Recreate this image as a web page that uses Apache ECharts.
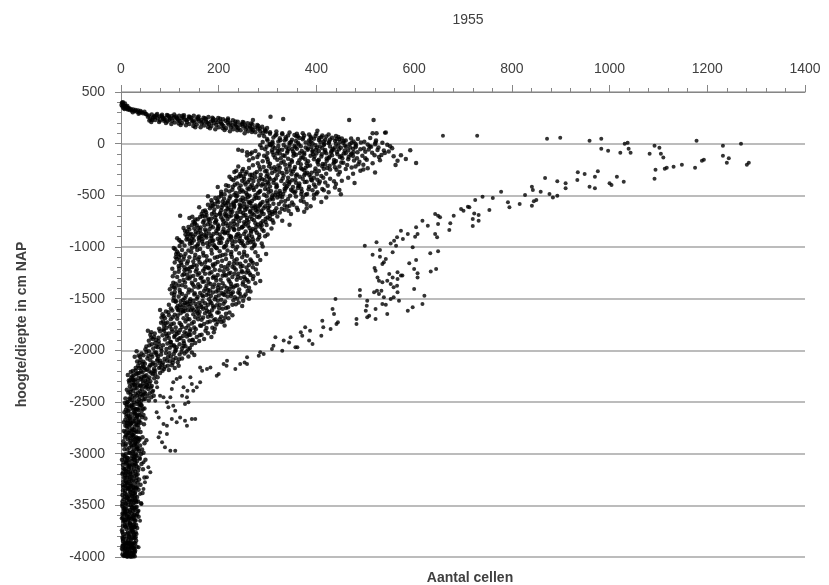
<!DOCTYPE html>
<html>
<head>
<meta charset="utf-8">
<script src="https://cdn.jsdelivr.net/npm/echarts@6/dist/echarts.min.js"></script>
<style>html,body{margin:0;padding:0;background:#fff}#c{width:829px;height:585px}</style>
</head>
<body>
<div id="c"></div>
<script>
const chartTitle = '1955';
const xAxisTitle = 'Aantal cellen';
const yAxisTitle = 'hoogte/diepte in cm NAP';
const xRange = [0, 1400, 200];
const yRange = [-4000, 500, 500];

// Near-surface band (x = cells, y = cm NAP)
const surfaceBand = [
[2,395],[4,380],[6,370],[8,388],[10,362],[12,350],[3,360],[5,345],[7,335],[9,352],[11,340],[14,330],[16,345],[18,325],[1,375],[4,400],[13,365],[15,338],[20,335],[22,320],[25,330],[28,315],[30,325],[33,310],[35,320],[38,300],[40,315],[42,305],[45,295],[48,310],[50,290],[24,305],[36,290],
[55,260],[60,240],[65,250],[70,230],[75,245],[80,225],[85,255],[90,235],[95,215],[100,245],[105,225],[110,205],[115,240],[120,220],[125,200],[130,235],[135,210],[140,190],[145,228],[150,205],[155,185],[160,220],[165,195],[170,175],[175,210],[180,190],[185,170],[190,200],[195,180],[200,160],[205,195],[210,170],[215,150],[220,185],[225,160],[230,140],[235,175],[240,150],[245,130],[250,165],[255,140],[260,120],[265,155],[270,130],[275,110],[280,145],[285,120],[290,100],
[58,225],[68,265],[78,210],[88,222],[98,262],[108,250],[118,195],[128,255],[138,240],[148,172],[158,240],[168,212],[178,162],[188,225],[198,208],[208,148],[218,205],[228,178],[238,130],[248,190],[258,160],[268,112],[62,210],[92,200],[122,180],[152,160],[182,148],[212,132],
[72,275],[83,268],[96,272],[112,262],[126,270],[141,258],[157,255],[172,246],[187,250],[203,240],[219,228],[234,215],[251,205],[266,195],[281,170],[103,190],[133,178],[163,158],[193,140],[223,120],[253,100],[283,80],[64,228],[86,240],[117,230],[147,215],[177,200],[207,185],[237,162],[267,142],[297,115],
[52,285],[57,272],[63,283],[69,258],[74,288],[79,263],[84,281],[89,248],[94,277],[99,231],[104,268],[109,282],[114,252],[119,271],[124,243],[129,276],[134,226],[139,263],[144,248],[149,271],[154,234],[159,262],[164,228],[169,251],[174,236],[179,258],[184,214],[189,241],[194,227],[199,249],[204,212],[209,236],[214,221],[219,244],[224,199],[229,227],[234,192],[239,212],[244,183],[249,209],[254,176],[259,197],[264,168],[269,187],[274,157],[279,181],[284,146],[289,163],[294,138],[299,152],
[306,261],[332,239],[467,229],[517,229],[402,126],[515,100],[523,100],[542,109],[270,229],
[295,125],[305,110],[318,118],[330,100],[345,108],[360,95],[372,102],[385,88],[400,95],[412,80],[425,88],[440,75],
[248,-68],[258,-84],[265,-100],[240,-60]
];

// Main cloud, upper part (0 to -1000)
const mainUpper = [
[305,95],[318,88],[330,92],[342,80],[355,85],[362,72],[375,78],[388,68],[398,75],[410,62],[420,70],[432,58],[445,65],[452,50],[312,60],[325,52],[338,45],[350,38],[365,55],[372,42],[385,30],[395,48],[405,35],[415,22],[428,40],[438,28],[448,15],[460,30],[472,10],[485,45],[498,18],[510,55],[522,30],[535,8],[300,30],[290,15],[310,5],[322,20],[345,10],[358,25],[378,12],[392,5],[408,15],[425,5],[440,0],[455,8],[468,-5],[480,-2],[505,-8],[520,-5],[545,-10],
[285,-15],[298,-30],[305,-8],[315,-45],[322,-22],[330,-60],[338,-35],[345,-12],[352,-75],[360,-48],[368,-25],[375,-88],[382,-60],[390,-32],[398,-15],[405,-70],[412,-45],[420,-92],[428,-28],[435,-58],[442,-80],[450,-40],[458,-18],[465,-65],[472,-95],[480,-35],[490,-55],[500,-78],[512,-30],[525,-62],[540,-90],[555,-45],[295,-55],[310,-82],[325,-95],[340,-88],[355,-20],[370,-70],[385,-5],[400,-95],[415,-12],[430,-85],[445,-20],[460,-92],[475,-48],[300,-90],[275,-70],[268,-85],[350,-52],[392,-78],[438,-38],[418,-62],
[258,-115],[270,-140],[282,-105],[290,-170],[298,-130],[305,-195],[312,-110],[320,-155],[328,-185],[335,-120],[342,-145],[350,-175],[358,-108],[365,-160],[372,-135],[380,-190],[388,-118],[395,-150],[402,-178],[410,-125],[418,-198],[425,-142],[432,-112],[440,-168],[448,-130],[455,-185],[465,-150],[475,-120],[488,-175],[500,-140],[515,-190],[530,-160],[562,-206],[566,-165],[583,-148],[604,-187],[280,-190],[315,-135],[345,-198],[375,-105],[405,-155],[435,-192],[470,-108],[262,-160],[300,-150],
[240,-220],[248,-265],[255,-290],[262,-235],[270,-210],[278,-275],[285,-250],[292,-225],[300,-295],[308,-240],[315,-268],[322,-212],[330,-285],[338,-245],[345,-222],[352,-270],[360,-298],[368,-235],[375,-258],[382,-215],[390,-282],[398,-240],[405,-265],[412,-218],[420,-290],[428,-250],[438,-228],[448,-275],[460,-245],[475,-290],[490,-262],[505,-238],[520,-280],[250,-245],[268,-300],[295,-268],[325,-232],[355,-245],[385,-300],[415,-242],[445,-298],[232,-275],[480,-220],
[222,-320],[230,-355],[238,-385],[245,-310],[252,-340],[260,-372],[268,-398],[275,-325],[282,-360],[290,-390],[298,-315],[305,-345],[312,-378],[320,-305],[328,-362],[335,-392],[342,-330],[350,-355],[358,-310],[365,-385],[372,-340],[380,-368],[388,-322],[395,-395],[402,-350],[410,-312],[418,-375],[428,-340],[440,-390],[452,-358],[465,-330],[478,-380],[235,-330],[255,-395],[285,-330],[318,-395],[345,-370],[375,-305],[405,-385],[248,-360],[395,-330],[300,-370],
[198,-420],[205,-465],[212,-490],[220,-410],[228,-445],[235,-478],[242,-428],[250,-462],[258,-495],[265,-415],[272,-448],[280,-480],[288,-405],[295,-438],[302,-472],[310,-498],[318,-425],[325,-458],[332,-488],[340,-412],[348,-445],[355,-475],[362,-430],[370,-462],[378,-495],[385,-418],[392,-452],[400,-485],[412,-438],[425,-470],[438,-425],[450,-490],[215,-450],[245,-405],[275,-500],[305,-415],[335,-455],[365,-408],[395,-495],[232,-495],[262,-440],[322,-492],[352,-420],[381,-487],[402,-471],
[178,-510],[185,-548],[192,-585],[200,-520],[208,-560],[215,-595],[222,-530],[230,-570],[238,-505],[245,-545],[252,-580],[260,-515],[268,-555],[275,-598],[282,-525],[290,-565],[298,-508],[305,-540],[312,-582],[320,-520],[328,-560],[335,-595],[342,-535],[350,-570],[358,-512],[368,-552],[380,-585],[395,-530],[410,-565],[188,-600],[205,-505],[225,-590],[255,-535],[285,-590],[315,-500],[345,-600],[372,-520],[235,-555],[265,-575],[300,-575],[330,-515],[420,-520],
[160,-615],[168,-655],[175,-690],[182,-625],[190,-665],[198,-610],[205,-645],[212,-685],[220,-620],[228,-660],[235,-698],[242,-635],[250,-672],[258,-608],[265,-648],[272,-688],[280,-628],[288,-662],[295,-605],[302,-645],[310,-680],[318,-625],[325,-665],[335,-640],[348,-680],[360,-620],[375,-660],[165,-680],[185,-605],[215,-700],[245,-602],[275,-615],[305,-698],[340,-610],[195,-690],[225,-640],[255,-690],[285,-695],[315,-650],[380,-625],[121,-697],
[140,-720],[148,-755],[155,-790],[162,-710],[170,-745],[178,-780],[185,-725],[192,-765],[200,-798],[208,-735],[215,-770],[222,-705],[230,-748],[238,-785],[245,-720],[252,-760],[260,-795],[268,-730],[275,-770],[282,-712],[290,-752],[298,-788],[305,-728],[312,-765],[320,-705],[330,-745],[345,-785],[152,-735],[172,-705],[195,-740],[218,-795],[242,-750],[265,-705],[288,-790],[310,-740],[145,-790],[182,-760],[205,-712],[235,-730],[258,-742],[280,-782],[300,-715],
[128,-815],[135,-850],[142,-885],[150,-820],[158,-860],[165,-895],[172,-830],[180,-870],[188,-808],[195,-845],[202,-880],[210,-825],[218,-865],[225,-898],[232,-835],[240,-872],[248,-810],[255,-850],[262,-888],[270,-825],[278,-862],[285,-805],[292,-845],[300,-880],[308,-820],[132,-880],[148,-900],[162,-838],[185,-895],[208,-852],[230,-805],[252,-875],[275,-838],[295,-895],[140,-830],[198,-818],[220,-840],[244,-892],[266,-860],[283,-882],
[115,-915],[122,-950],[130,-985],[138,-925],[145,-962],[152,-998],[160,-935],[168,-970],[175,-908],[182,-945],[190,-980],[198,-920],[205,-958],[212,-995],[220,-930],[228,-968],[235,-905],[242,-942],[250,-978],[258,-918],[265,-955],[272,-990],[280,-928],[288,-965],[120,-990],[135,-900],[158,-972],[178,-1000],[202,-938],[225,-905],[248,-945],[270,-925],[290,-995],[142,-945],[185,-912],[215,-985],[238,-998],[262,-935]
];

// Extra readings of the dense upper cloud
const mainUpperFill = [
[288,-42],[293,-118],[301,-177],[309,-63],[314,-228],[319,-96],[327,-141],[333,-13],[336,-203],[341,-72],[347,-259],[353,-118],[357,-34],[362,-187],[366,-92],[371,-247],[377,-151],[383,-47],[387,-211],[393,-103],[397,-266],[403,-166],[407,-27],[413,-197],[417,-79],[422,-236],[427,-123],[433,-52],[437,-179],[443,-102],[447,-221],[453,-141],[458,-66],[463,-207],[469,-36],[477,-163],[484,-83],[494,-118],[507,-57],[519,-112],[279,-128],[283,-221],[298,-262],[306,-16],[324,-58],[339,-277],[349,-161],[368,-199],[381,-281],[399,-58],[421,-165],[441,-253],[456,-96],[483,-141],[496,-203],[528,-128],[548,-76],[573,-112],[592,-63],[310,18],[335,30],[362,8],[389,52],[418,38],[447,44],[476,22],
[226,-341],[233,-398],[241,-317],[247,-452],[253,-376],[259,-433],[264,-302],[271,-361],[277,-417],[283,-467],[289,-344],[296,-401],[303,-327],[307,-458],[313,-352],[319,-412],[326,-479],[331,-336],[338,-426],[344,-389],[351,-457],[357,-347],[363,-408],[369,-486],[376,-371],[384,-441],[391,-356],[398,-418],[407,-367],[415,-451],[423,-407],[436,-364],[447,-448],[205,-487],[211,-533],[218,-572],[224,-508],[231,-617],[237,-549],[243,-588],[249,-523],[254,-642],[261,-563],[267,-606],[273,-532],[279,-658],[286,-578],[292,-626],[299,-552],[304,-603],[311,-537],[316,-668],[323,-583],[329,-629],[336,-556],[343,-648],[353,-592],[362,-642],[374,-563],[388,-606],[186,-571],[191,-636],[197,-552],[202,-683],[208,-597],[214,-651],[219,-557],[226,-694],[232,-603],[238,-669],[244,-618],[251,-697],[257,-631],[263,-571],[269,-677],[276,-644],[283,-601],[292,-681],[301,-621],[309,-662],[172,-647],[178,-592],[167,-699],
[146,-708],[151,-776],[157,-732],[163,-812],[168,-761],[174,-849],[179,-727],[184,-797],[189,-873],[194,-754],[199,-827],[204,-905],[209,-783],[213,-858],[218,-728],[223,-811],[227,-934],[232,-772],[237,-883],[241,-826],[246,-961],[251,-797],[256,-908],[261,-757],[266,-842],[271,-951],[277,-803],[283,-906],[289,-831],[296,-759],[131,-842],[134,-927],[138,-807],[141,-968],[144,-873],[149,-938],[153,-851],[156,-989],[161,-903],[166,-947],[171,-881],[176,-963],[181,-828],[187,-941],[192,-996],[196,-868],[201,-962],[207,-918],[212,-867],[217,-954],[222,-891],[229,-993],[234,-946],[243,-917],[253,-992],[259,-961],[268,-898],[274,-979],[125,-953],[119,-932],
[293,72],[299,46],[304,-4],[311,-28],[316,78],[321,-71],[326,34],[332,-112],[337,62],[343,-52],[348,16],[354,-96],[359,69],[364,-7],[369,-133],[373,57],[378,-38],[383,-171],[388,21],[392,-66],[396,-124],[401,-38],[406,54],[411,-102],[416,-3],[421,-143],[426,19],[431,-72],[436,-158],[441,43],[446,-56],[451,-119],[456,26],[461,-31],[466,-128],[471,51],[476,-84],[481,-17],[486,-199],[491,12],[497,-47],[503,-156],[509,-24],[514,-88],[521,12],[527,-38],[533,-109],[538,-67],[551,-24],[558,-121],[303,-218],[318,-247],[333,-173],[356,-226],[378,-233],[404,-201],[427,-214],[451,-183],[472,-231],[496,-249],
[236,-262],[244,-293],[251,-318],[257,-274],[263,-349],[268,-331],[274,-288],[281,-394],[286,-302],[294,-352],[302,-384],[309,-283],[317,-338],[324,-271],[333,-307],[341,-364],[349,-296],[358,-378],[366,-321],[377,-289],[389,-349],[401,-296],[414,-331],[215,-402],[222,-463],[229,-417],[236,-511],[243,-468],[249,-552],[256,-476],[263,-503],[270,-429],[277,-523],[285,-457],[293,-495],[301,-441],[309,-523],[317,-471],[326,-512],[335,-437],[346,-503],[357,-463],[369,-437],[193,-527],[199,-566],[206,-617],[212,-577],[218,-632],[224,-662],[231,-583],[238,-706],[245,-662],[252,-613],[258,-719],[264,-661],[271,-625],[278,-708],[287,-648],[296,-727],[304,-668],[174,-663],[179,-738],[186,-681],[192,-712],[198,-783],[203,-672],[210,-752],[216,-687],[224,-773],[231,-829],[238,-712],[247,-811],[255,-776],[263,-817],[272,-742],[286,-771],[151,-762],[158,-817],[164,-871],[171,-789]
];

// Main cloud, middle part (-1000 to -2200)
const mainMiddle = [
[108,-1010],[115,-1045],[122,-1080],[128,-1120],[135,-1160],[142,-1195],[110,-1150],[118,-1185],[125,-1030],[132,-1065],[140,-1100],[148,-1140],[155,-1180],[162,-1020],[168,-1055],[175,-1090],[182,-1130],[188,-1170],[195,-1008],[202,-1042],[208,-1078],[215,-1115],[222,-1155],[228,-1192],[235,-1025],[242,-1060],[248,-1098],[255,-1138],[262,-1175],[268,-1012],[275,-1050],[280,-1088],[285,-1125],[278,-1165],[297,-1068],[112,-1100],[138,-1035],[152,-1075],[158,-1120],[172,-1150],[178,-1198],[192,-1105],[198,-1145],[205,-1185],[218,-1035],[225,-1070],[232,-1130],[238,-1160],[252,-1045],[258,-1085],[265,-1120],[270,-1155],[245,-1190],[120,-1130],[145,-1010],[165,-1168],[185,-1028],[212,-1195],[270,-1195],[130,-1195],[160,-1100],
[105,-1210],[110,-1250],[115,-1290],[120,-1330],[125,-1370],[108,-1390],[130,-1225],[135,-1265],[140,-1305],[145,-1345],[150,-1385],[155,-1215],[160,-1255],[165,-1295],[170,-1335],[175,-1375],[180,-1205],[185,-1245],[190,-1285],[195,-1325],[200,-1365],[205,-1398],[210,-1235],[215,-1275],[220,-1315],[225,-1355],[230,-1392],[235,-1220],[240,-1260],[245,-1300],[250,-1340],[255,-1380],[260,-1230],[265,-1270],[270,-1310],[275,-1350],[262,-1395],[118,-1240],[128,-1320],[138,-1210],[148,-1280],[158,-1360],[168,-1230],[178,-1310],[188,-1390],[198,-1270],[208,-1350],[218,-1215],[228,-1290],[238,-1370],[248,-1245],[258,-1320],[112,-1355],[132,-1385],[152,-1320],[172,-1260],[192,-1220],[212,-1380],[232,-1260],[252,-1290],[280,-1260],[285,-1330],
[100,-1410],[104,-1450],[108,-1490],[112,-1530],[116,-1570],[120,-1415],[125,-1455],[130,-1495],[135,-1535],[140,-1575],[145,-1420],[150,-1460],[155,-1500],[160,-1540],[165,-1580],[170,-1425],[175,-1465],[180,-1505],[185,-1545],[190,-1585],[195,-1430],[200,-1470],[205,-1510],[210,-1550],[215,-1590],[220,-1435],[225,-1475],[230,-1515],[235,-1555],[240,-1440],[245,-1480],[250,-1520],[255,-1460],[262,-1500],[265,-1430],[98,-1560],[102,-1595],[118,-1480],[128,-1560],[138,-1440],[148,-1520],[158,-1595],[168,-1480],[178,-1560],[188,-1440],[198,-1520],[208,-1598],[218,-1480],[228,-1560],[238,-1500],[248,-1570],[122,-1525],[142,-1505],[162,-1445],[182,-1420],[202,-1560],[222,-1410],[110,-1435],[132,-1590],[172,-1545],[192,-1505],[212,-1465],
[80,-1610],[85,-1650],[90,-1690],[95,-1730],[100,-1770],[78,-1790],[105,-1615],[110,-1655],[115,-1695],[120,-1735],[125,-1775],[130,-1620],[135,-1660],[140,-1700],[145,-1740],[150,-1780],[155,-1625],[160,-1665],[165,-1705],[170,-1745],[175,-1785],[180,-1630],[185,-1670],[190,-1710],[195,-1750],[200,-1635],[205,-1675],[210,-1715],[215,-1645],[220,-1690],[228,-1660],[92,-1625],[102,-1700],[112,-1780],[122,-1640],[132,-1720],[142,-1795],[152,-1680],[162,-1760],[172,-1640],[182,-1720],[192,-1790],[202,-1700],[212,-1760],[88,-1760],[98,-1660],[118,-1605],[138,-1760],[158,-1700],[178,-1675],[198,-1725],[86,-1720],[108,-1740],[128,-1690],[148,-1650],
[55,-1810],[60,-1850],[65,-1890],[70,-1930],[75,-1970],[50,-1990],[80,-1815],[85,-1855],[90,-1895],[95,-1935],[100,-1975],[105,-1820],[110,-1860],[115,-1900],[120,-1940],[125,-1980],[130,-1825],[135,-1865],[140,-1905],[145,-1945],[150,-1830],[155,-1870],[160,-1910],[165,-1850],[170,-1890],[178,-1835],[185,-1870],[62,-1825],[72,-1900],[82,-1980],[92,-1840],[102,-1920],[112,-1995],[122,-1880],[132,-1960],[142,-1850],[152,-1930],[58,-1950],[68,-1870],[78,-1940],[88,-1810],[98,-1880],[108,-1950],[118,-1830],[128,-1910],[138,-1990],[190,-1825],
[32,-2010],[36,-2050],[40,-2090],[44,-2130],[48,-2170],[30,-2195],[52,-2015],[56,-2055],[60,-2095],[64,-2135],[68,-2175],[72,-2020],[76,-2060],[80,-2100],[84,-2140],[88,-2180],[92,-2025],[96,-2065],[100,-2105],[104,-2145],[108,-2035],[112,-2075],[116,-2115],[120,-2040],[125,-2080],[130,-2030],[138,-2060],[145,-2020],[150,-2045],[35,-2150],[42,-2030],[46,-2110],[50,-2190],[54,-2080],[58,-2160],[62,-2040],[66,-2120],[70,-2200],[74,-2100],[78,-2170],[82,-2040],[86,-2120],[90,-2160],[94,-2100],[98,-2190],[102,-2060],[106,-2120],[38,-2120],[110,-2170],[118,-2150]
];

// Extra readings of the dense middle cloud
const mainMiddleFill = [
[111,-1022],[114,-1116],[117,-1063],[119,-1208],[123,-1152],[126,-1274],[129,-1091],[131,-1343],[134,-1218],[137,-1137],[139,-1412],[142,-1286],[144,-1049],[147,-1363],[149,-1173],[151,-1447],[153,-1238],[156,-1029],[158,-1391],[161,-1147],[163,-1302],[166,-1466],[169,-1083],[171,-1211],[173,-1402],[176,-1128],[179,-1343],[181,-1257],[184,-1473],[186,-1063],[189,-1183],[191,-1362],[194,-1298],[197,-1097],[199,-1421],[202,-1226],[204,-1317],[207,-1133],[209,-1458],[212,-1268],[214,-1073],[217,-1396],[219,-1179],[222,-1333],[224,-1248],[227,-1097],[229,-1438],[232,-1203],[234,-1376],[237,-1118],[239,-1287],[242,-1411],[244,-1162],[247,-1232],[249,-1363],[252,-1073],[254,-1308],[257,-1198],[259,-1426],[263,-1253],[267,-1138],[271,-1283],[276,-1218],[106,-1283],[107,-1347],[109,-1462],[112,-1523],[114,-1588],[118,-1373],[121,-1441],[124,-1582],[127,-1513],[133,-1471],[136,-1553],[141,-1526],[146,-1592],[152,-1548],[157,-1482],[163,-1563],[167,-1523],[174,-1588],[179,-1452],[183,-1531],[188,-1572],[194,-1483],[201,-1592],[206,-1446],[213,-1527],[219,-1583],[226,-1452],[233,-1486],[241,-1537],[252,-1478],
[83,-1683],[87,-1796],[91,-1741],[94,-1862],[97,-1632],[101,-1917],[103,-1748],[106,-1681],[109,-1963],[113,-1817],[116,-1662],[119,-1886],[123,-1753],[127,-1623],[129,-1932],[133,-1783],[136,-1697],[139,-1848],[143,-1612],[146,-1902],[149,-1727],[153,-1797],[157,-1642],[161,-1853],[164,-1761],[168,-1682],[173,-1811],[177,-1728],[183,-1651],[187,-1782],[193,-1698],[197,-1633],[206,-1727],[213,-1683],[222,-1634],[62,-1877],[66,-1983],[69,-1838],[73,-2043],[77,-1911],[79,-2122],[83,-2007],[86,-1951],[89,-2083],[93,-1986],[96,-2149],[99,-2028],[103,-1948],[107,-2091],[111,-2008],[114,-1969],[119,-2087],[124,-2013],[128,-1957],[134,-2012],[141,-1977],[147,-1897],[39,-2063],[42,-2168],[46,-2048],[49,-2129],[53,-2183],[57,-2008],[60,-2141],[64,-2061],[67,-2198],[71,-2142],[75,-2087],[81,-2162],[85,-2197],[57,-1908],[52,-1963],
[138,-872],[145,-921],[152,-878],[159,-913],[167,-926],[174,-891],[182,-976],[189,-937],[196,-1012],[211,-1004],[226,-1049],[113,-1068],[119,-1097],[124,-1175],[129,-1262],[136,-1302],[141,-1238],[146,-1193],[151,-1107],[157,-1268],[162,-1382],[167,-1336],[173,-1191],[178,-1415],[183,-1359],[188,-1297],[193,-1162],[198,-1392],[203,-1087],[208,-1279],[214,-1432],[221,-1257],[226,-1383],[231,-1161],[237,-1318],[243,-1449],[249,-1183],[256,-1247],[261,-1337],[104,-1374],[107,-1521],[111,-1397],[117,-1612],[121,-1562],[126,-1611],[131,-1542],[137,-1611],[143,-1552],[149,-1613],[155,-1577],[161,-1628],[168,-1598],[176,-1618],[186,-1612],[196,-1563],[82,-1733],[87,-1671],[93,-1781],[98,-1837],[104,-1797],[109,-1872],[114,-1843],[121,-1803],[127,-1861],[134,-1837],[141,-1812],[72,-1962],[77,-1878],[63,-1942],[69,-2021]
];

// Deep column (-2200 to -4000)
const deepColumn = [
[20,-2210],[23,-2250],[26,-2290],[29,-2330],[32,-2370],[35,-2410],[38,-2450],[41,-2490],[44,-2215],[47,-2255],[50,-2295],[53,-2335],[56,-2375],[59,-2415],[62,-2455],[65,-2230],[68,-2270],[72,-2310],[75,-2260],[18,-2350],[20,-2430],[22,-2480],[25,-2390],[28,-2460],[31,-2230],[34,-2300],[37,-2220],[40,-2340],[43,-2380],[46,-2430],[49,-2470],[52,-2240],[55,-2280],[58,-2320],[61,-2360],[64,-2400],[67,-2440],[45,-2320],[36,-2265],[27,-2330],[33,-2495],[48,-2405],[54,-2445],[60,-2300],[70,-2235],[80,-2220],[24,-2200],[42,-2260],[30,-2420],[39,-2395],[51,-2360],[57,-2485],[63,-2345],[19,-2290],[26,-2240],
[8,-2510],[12,-2545],[16,-2580],[20,-2615],[24,-2650],[28,-2685],[32,-2720],[36,-2755],[40,-2790],[10,-2825],[14,-2860],[18,-2895],[22,-2930],[26,-2965],[30,-2998],[34,-2520],[38,-2555],[42,-2590],[46,-2625],[50,-2660],[6,-2695],[9,-2730],[13,-2765],[17,-2800],[21,-2835],[25,-2870],[29,-2905],[33,-2940],[37,-2975],[41,-2530],[45,-2565],[7,-2600],[11,-2640],[15,-2680],[19,-2720],[23,-2760],[27,-2800],[31,-2840],[35,-2880],[39,-2920],[43,-2960],[5,-2880],[9,-2920],[13,-2960],[17,-2990],[21,-2540],[25,-2575],[29,-2610],[33,-2645],[37,-2680],[47,-2715],[12,-2700],[16,-2740],[20,-2780],[24,-2820],[28,-2860],[32,-2900],[6,-2780],[8,-2840],[26,-2530],[30,-2570],[36,-2620],[18,-2660],[22,-2705],[44,-2840],[48,-2900],[52,-2870],[14,-2500],[40,-2700],[10,-2575],[28,-2740],[34,-2790],
[4,-3010],[7,-3045],[10,-3080],[13,-3115],[16,-3150],[19,-3185],[22,-3220],[25,-3255],[28,-3290],[5,-3325],[8,-3360],[11,-3395],[14,-3430],[17,-3465],[20,-3498],[23,-3020],[26,-3055],[29,-3090],[32,-3125],[35,-3160],[3,-3195],[6,-3230],[9,-3265],[12,-3300],[15,-3335],[18,-3370],[21,-3405],[24,-3440],[27,-3475],[30,-3030],[33,-3070],[4,-3110],[7,-3150],[10,-3190],[13,-3230],[16,-3270],[19,-3310],[22,-3350],[25,-3390],[28,-3430],[31,-3470],[3,-3400],[6,-3440],[9,-3480],[12,-3040],[15,-3075],[18,-3110],[21,-3145],[24,-3180],[27,-3215],[37,-3250],[40,-3300],[36,-3350],[33,-3420],[11,-3170],[14,-3210],[17,-3250],[20,-3290],[5,-3270],[8,-3310],[38,-3040],[42,-3100],[26,-3330],[29,-3370],[23,-3410],[2,-3060],[34,-3200],[31,-3260],[45,-3150],[50,-3060],[48,-3230],[44,-3380],[41,-3480],[46,-2990],
[3,-3510],[6,-3545],[9,-3580],[12,-3615],[15,-3650],[18,-3685],[21,-3720],[24,-3755],[27,-3790],[4,-3825],[7,-3860],[10,-3895],[13,-3930],[16,-3965],[19,-3990],[22,-3520],[25,-3555],[28,-3590],[2,-3625],[5,-3660],[8,-3695],[11,-3730],[14,-3765],[17,-3800],[20,-3835],[23,-3870],[26,-3905],[29,-3940],[3,-3975],[6,-3530],[9,-3565],[12,-3600],[15,-3635],[18,-3670],[21,-3705],[24,-3740],[27,-3775],[30,-3810],[4,-3845],[7,-3880],[10,-3915],[13,-3950],[16,-3985],[19,-3545],[22,-3580],[25,-3615],[28,-3650],[31,-3690],[34,-3560],[36,-3610],[33,-3720],[30,-3760],[2,-3740],[5,-3780],[8,-3920],[11,-3960],[14,-3995],[17,-3870],[20,-3910],[23,-3950],[26,-3980],[29,-3870],[32,-3900],[4,-3700],[6,-3990],[12,-3995],[18,-3945],[24,-3995],[28,-3992]
];

// Extra readings of the deep column
const deepFill = [
[14,-2238],[17,-2313],[21,-2376],[24,-2441],[27,-2502],[30,-2567],[33,-2632],[36,-2691],[11,-2523],[14,-2588],[17,-2647],[20,-2709],[23,-2773],[26,-2836],[29,-2893],[32,-2957],[9,-2671],[12,-2733],[15,-2797],[18,-2852],[21,-2913],[24,-2978],[27,-3037],[30,-3103],[7,-2958],[10,-3003],[13,-3067],[16,-3128],[19,-3197],[22,-3263],[25,-3323],[28,-3383],[5,-3143],[8,-3207],[11,-3276],[14,-3341],[17,-3407],[20,-3462],[23,-3527],[26,-3596],[4,-3357],[7,-3419],[10,-3487],[13,-3553],[16,-3618],[19,-3677],[22,-3743],[25,-3812],[3,-3582],[6,-3643],[9,-3707],[12,-3776],[15,-3837],[18,-3902],[21,-3963],[24,-3878],[5,-3887],[8,-3951],[11,-3823],[14,-3862],[27,-3713],[30,-3647],[33,-3583],[27,-3523],[31,-3337],[34,-3282],[32,-3017],[35,-2954],[37,-2852],[39,-2627],[42,-2532],[46,-2473],[50,-2417],[54,-2351],[58,-2263],[62,-2217],[16,-2293],[19,-2403],[22,-2526],[25,-2687],[28,-2617],[31,-2783],[34,-2851],[4,-2913],[6,-3083],[9,-3148],[12,-3333],[15,-3497],[18,-3563],[21,-3627],[24,-3687],[3,-3813],[2,-3921],[7,-3983],[10,-3987],[13,-3872],[16,-3803],[19,-3753],[22,-3822],[25,-3913],[28,-3953],[20,-3998],[9,-3641],[6,-3587],[3,-3463],[8,-3527],[12,-3453],[17,-3117],[21,-3047],[26,-2922],[29,-3173],[32,-3233],[35,-3462],[30,-3523],[27,-3862],[14,-2703],[17,-2467],[23,-2337],[29,-2283],[35,-2335],[41,-2281],[47,-2348],[44,-2437],[38,-2517],[33,-2573],[48,-2563],[43,-2647],[38,-2863],[41,-3003],[36,-3133],[33,-3322],[29,-3452],[27,-3631],[31,-3842],[23,-3453],
[28,-2063],[33,-2107],[37,-2171],[41,-2203],[45,-2157],[21,-2266],[25,-2317],[29,-2362],[33,-2438],[37,-2478],[41,-2423],[15,-2407],[19,-2472],[23,-2556],[27,-2598],[31,-2658],[35,-2722],[11,-2617],[15,-2632],[19,-2683],[23,-2814],[27,-2771],[31,-2933],[9,-2793],[13,-2821],[17,-2943],[21,-2878],[25,-3003],[29,-3062],[7,-3023],[11,-3092],[15,-3176],[19,-3231],[23,-3107],[27,-3147],[31,-3201],[5,-3183],[9,-3233],[13,-3287],[17,-3333],[21,-3308],[25,-3358],[29,-3409],[4,-3303],[8,-3382],[12,-3417],[16,-3442],[20,-3371],[24,-3492],[28,-3542],[3,-3489],[7,-3564],[11,-3532],[15,-3583],[19,-3607],[23,-3638],[27,-3684],[4,-3617],[8,-3658],[12,-3688],[16,-3718],[20,-3783],[24,-3718],[28,-3817],[3,-3761],[7,-3802],[11,-3862],[15,-3897],[19,-3867],[23,-3907],[27,-3928],[5,-3931],[9,-3968],[13,-3978],[17,-3928],[21,-3882],[25,-3962],[3,-3893],[14,-3042],[18,-2992],[22,-3073],[26,-3113],[10,-2903],[13,-2503],[17,-2541],[9,-2465],[12,-2382],[24,-2283],[30,-2171],[34,-2223],[58,-2203],[49,-2252],[44,-2293],[39,-2347],[52,-2312],[35,-2577],[31,-2707],[33,-2862],[30,-3331],[32,-3517]
];

// Second (outer) branch
const outerBranch = [
[540,106],[659,77],[729,77],[872,48],[899,58],[959,29],[983,48],[983,-48],[997,-68],[1022,-87],[1031,0],[1037,10],[1039,-48],[1043,-87],[1082,-97],[1092,-19],[1102,-39],[1105,-97],[1110,-135],[1094,-252],[1092,-339],[1113,-242],[1117,-232],[1131,-223],[1148,-203],[1175,-232],[1178,29],[1189,-165],[1193,-155],[1232,-19],[1232,-116],[1240,-184],[1244,-140],[1269,0],[1281,-203],[1285,-184],
[935,-277],[949,-294],[934,-352],[976,-268],[970,-319],[959,-416],[970,-432],[868,-332],[893,-364],[910,-384],[910,-432],[1000,-384],[1004,-400],[1015,-319],[1029,-368],
[778,-465],[792,-568],[795,-616],[816,-584],[827,-497],[841,-416],[843,-448],[859,-465],[841,-600],[845,-558],[850,-545],[877,-487],[884,-520],[893,-503],[761,-526],[740,-513],[725,-545],[754,-642],[732,-690],[732,-745],[720,-729],[720,-797],[723,-675],[696,-632],[701,-648],[710,-610],[713,-616],[681,-697],[674,-771],[672,-835],[649,-697],[643,-680],[653,-713],[649,-777],[643,-874],[647,-906],[633,-1061],[649,-1042],[645,-1213],[634,-1236],[628,-794],[617,-745],[604,-810],[607,-874],[602,-900],[597,-1003],[590,-1158],[604,-1126],[607,-1255],[587,-874],[577,-922],[573,-842],[565,-906],[559,-939],[552,-965],[563,-987],[556,-1052],[542,-1116],[538,-1148],[549,-1261],[566,-1245],[573,-1277],
[499,-987],[523,-955],[515,-1074],[519,-1203],[530,-1029],[530,-1094],[535,-1165],
[521,-1229],[525,-1294],[528,-1326],[535,-1342],[524,-1423],[518,-1439],[533,-1423],[545,-1326],[552,-1358],[556,-1294],[558,-1390],[565,-1374],[566,-1439],[558,-1487],[552,-1503],[569,-1519],[566,-1310],[576,-1277],[600,-1213],[607,-1294],[600,-1406],[621,-1471],[617,-1552],[587,-1616],[597,-1584],
[489,-1416],[489,-1471],[504,-1519],[503,-1568],[501,-1616],[508,-1665],[504,-1681],[521,-1697],[545,-1648],[542,-1558],[535,-1552],[521,-1600],[482,-1697],[482,-1745],[528,-1455],[538,-1487],
[439,-1503],[433,-1600],[436,-1648],[441,-1745],[444,-1729],[412,-1713],[414,-1777],[410,-1858],[429,-1794],[377,-1777],[387,-1810],[385,-1906],[392,-1939],[368,-1826],[371,-1858],[361,-1971],[347,-1874],[344,-1923],[333,-1906],[330,-2003],[316,-1874],[312,-1955],[309,-1987],[292,-2036],[282,-2052],[285,-2019],[357,-1971],
[258,-2068],[253,-2117],[258,-2132],[244,-2132],[234,-2181],[217,-2100],[216,-2148],[210,-2132],[200,-2229],[196,-2245],[183,-2165],[176,-2181],[166,-2197],[162,-2165],[142,-2261],[145,-2326],[155,-2358],[162,-2310],[148,-2390],[136,-2390],[128,-2358],[125,-2439],[135,-2455],[121,-2261],[114,-2277],[107,-2310],[104,-2374],[101,-2455],[97,-2552],[107,-2536],[111,-2584],[121,-2649],[131,-2681],[145,-2665],[152,-2665],[114,-2697],[104,-2665],[94,-2729],[87,-2713],[80,-2794],[77,-2842],[84,-2890],[90,-2939],[77,-2649],[73,-2600],[70,-2487],[80,-2439],[87,-2455],[94,-2503],[66,-2390],[74,-2358],
[131,-2519],[138,-2503],[135,-2729],[101,-2971],[111,-2971],[94,-2810],
[39,-3052],[46,-3084],[56,-3132],[60,-3181],[53,-3229],[49,-3277],[46,-3342],[39,-3390],[32,-3455],[42,-3487],[36,-3552],[32,-3600],[39,-3648],[29,-3713],[32,-3777],[36,-3906]
];

const dotColor = '#000000';
const textColor = '#404040';
const font = 'Liberation Sans';

const mk = (name, data, size) => ({
  name, type: 'scatter', data, symbolSize: size, silent: true, animation: false,
  itemStyle: { color: dotColor }
});
const plain = v => String(v);

const chart = echarts.init(document.getElementById('c'), null, { renderer: 'canvas' });
chart.setOption({
  animation: false,
  backgroundColor: '#ffffff',
  title: [
    { text: chartTitle, left: 463, top: 8, textAlign: 'center',
      textStyle: { fontFamily: font, fontSize: 14, fontWeight: 'normal', color: textColor } },
    { text: xAxisTitle, left: 465, top: 566, textAlign: 'center',
      textStyle: { fontFamily: font, fontSize: 14, fontWeight: 'bold', color: textColor } }
  ],
  grid: { left: 121, top: 92, right: 24, bottom: 28 },
  xAxis: {
    type: 'value', position: 'top', min: xRange[0], max: xRange[1], interval: xRange[2],
    axisLine: { show: true, onZero: false, lineStyle: { color: '#868686', width: 1 } },
    axisTick: { show: true, inside: false, length: 7, lineStyle: { color: '#868686' } },
    minorTick: { show: true, splitNumber: 5, length: 4, lineStyle: { color: '#868686' } },
    splitLine: { show: false },
    axisLabel: { margin: 16, fontFamily: font, fontSize: 14, color: textColor, formatter: plain }
  },
  yAxis: {
    type: 'value', min: yRange[0], max: yRange[1], interval: yRange[2],
    name: yAxisTitle, nameLocation: 'middle', nameRotate: 90, nameGap: 92,
    nameTextStyle: { fontFamily: font, fontSize: 14, fontWeight: 'bold', color: textColor },
    axisLine: { show: true, onZero: false, lineStyle: { color: '#868686', width: 1 } },
    axisTick: { show: true, inside: false, length: 6, lineStyle: { color: '#868686' } },
    minorTick: { show: true, splitNumber: 5, length: 4, lineStyle: { color: '#868686' } },
    splitLine: { show: true, lineStyle: { color: '#a6a6a6', width: 1.5 } },
    axisLabel: { margin: 16, fontFamily: font, fontSize: 14, color: textColor, formatter: plain }
  },
  series: [
    mk('surface', surfaceBand, 4.5),
    mk('upper', mainUpper, 4.5),
    mk('upperFill', mainUpperFill, 4.5),
    mk('middle', mainMiddle, 4.5),
    mk('middleFill', mainMiddleFill, 4.5),
    mk('deep', deepColumn, 4.5),
    mk('deepFill', deepFill, 4.5),
    mk('outer', outerBranch, 4)
  ]
});
</script>
</body>
</html>
